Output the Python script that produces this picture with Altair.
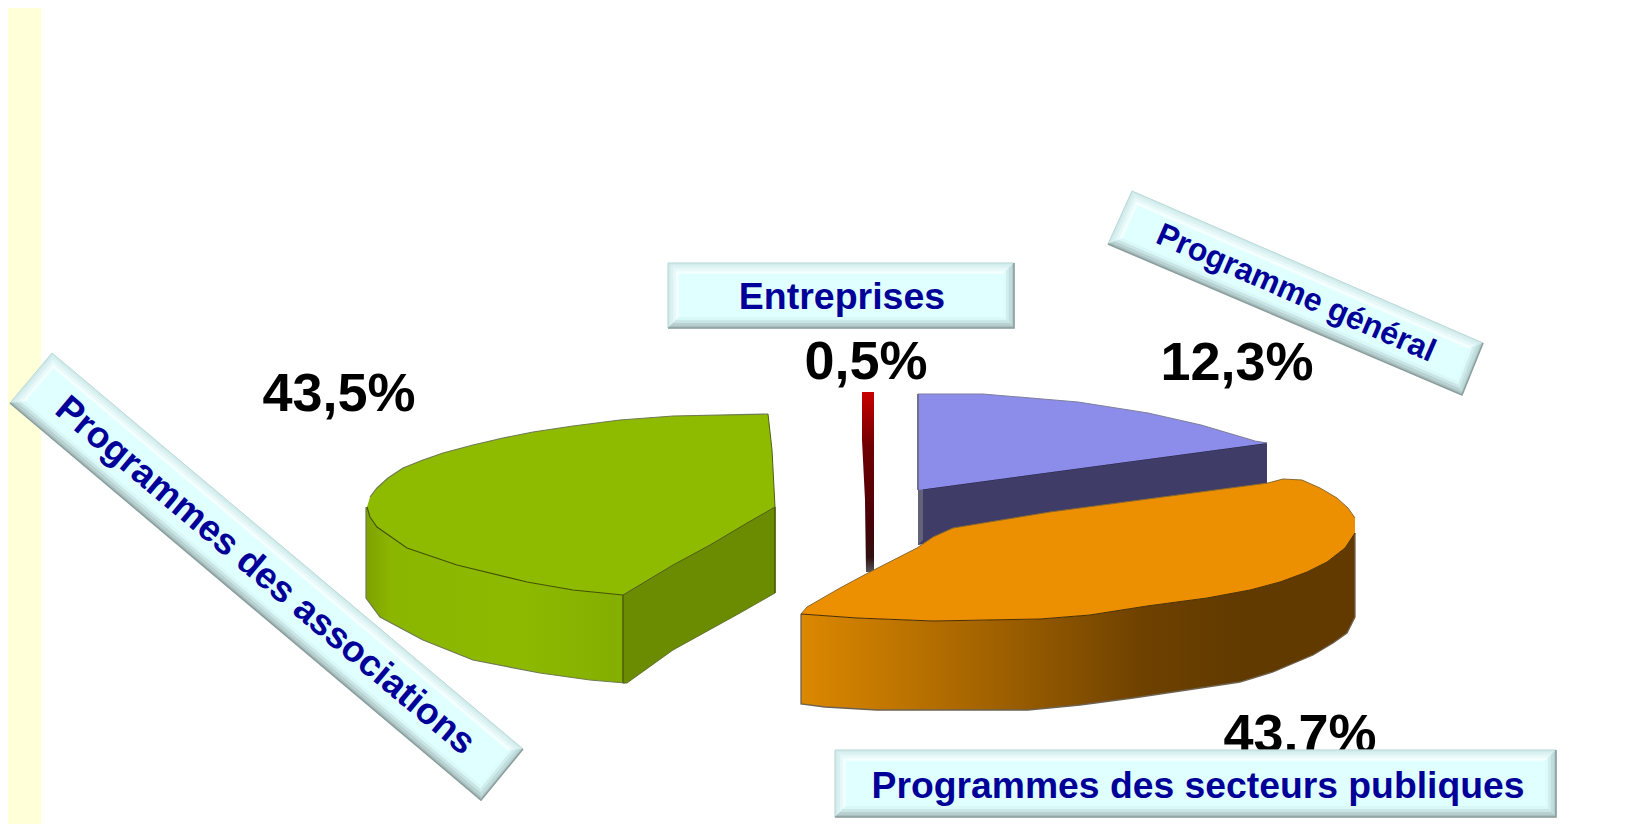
import math
import altair as alt
import pandas as pd

# ---- values and labels
categories = ["Programmes des associations", "Entreprises", "Programme général", "Programmes des secteurs publiques"]
share_labels = ["43,5%", "0,5%", "12,3%", "43.7%"]
share_x = [339, 866, 1237, 1300]
share_y = [411, 379, 380, 752]

# ---- outlines (x, y in picture pixels, y downwards)
green_front = [(367,507),(370,517),(377,527),(407,548),(457,565),(527,582),(573,590),(623,595)]
green_back = [(768,414),(673,416),(620,420),(573,426),(533,432),(503,438),(473,445),(443,453),(423,460),(403,468),(388,478),(377,488),(370,497)]
green_cut = [(623,595),(673,565),(710,545),(747,523),(775,507),(772,450),(768,414)]
green_bottom = [(625,683),(590,680),(540,673),(473,660),(423,640),(380,617),(366,598),(366,507)]
green_inner = [(623,595),(673,565),(710,545),(747,523),(775,507),(775,593),(740,613),(673,650),(627,683),(623,683),(623,595)]
red_slice = [(862,392),(874,392),(874,572),(866,572),(865,500),(862,440),(862,392)]
blue_side = [(918,490),(1267,443),(1267,484),(918,545),(918,490)]
blue_edge = [(918,394),(923,394),(923,540),(918,545),(918,394)]
blue_top = [(918,394),(983,394),(1078,402),(1148,413),(1201,425),(1255,441),(1267,443),(918,490),(918,394)]
orange_front = [(801,614),(857,618),(933,621),(1040,619),(1090,615),(1147,606),(1207,598),(1250,590),(1280,582),(1307,572),(1327,562),(1345,548),(1355,533)]
orange_bottom = [(1355,533),(1355,617),(1347,633),(1333,643),(1313,655),(1273,672),(1240,682),(1187,690),(1133,698),(1080,705),(1028,710),(877,710),(825,707),(801,704),(801,614)]
orange_back = [(1355,518),(1348,508),(1337,498),(1320,488),(1302,480),(1283,479),(1268,483),(1050,512),(953,528),(933,537),(917,548),(868,573),(840,588),(807,607),(801,614)]

# label boxes: top-left, top-right, bottom-right, bottom-left corners
box_corners = [
    [(52,353),(523,749),(481,800),(10,403)],
    [(668,263),(1014,263),(1014,328),(668,328)],
    [(1132,191),(1483,343),(1462,395),(1108,244)],
    [(835,750),(1556,750),(1556,817),(835,817)],
]
box_angle = [40, 0, 23.5, 0]
box_font = [37, 37.5, 32, 37.3]
box_text_xy = [(265,576),(842,298),(1296,293),(1198,787)]

FONT = "Liberation Sans"
X = alt.Scale(domain=[8, 1619], nice=False, zero=False)
Y = alt.Scale(domain=[824, 8], nice=False, zero=False)


def hgrad(*stops):
    return {"gradient": "linear", "x1": 0, "x2": 1, "y1": 0, "y2": 0,
            "stops": [{"offset": o, "color": c} for o, c in stops]}


def vgrad(*stops):
    return {"gradient": "linear", "x1": 0, "x2": 0, "y1": 0, "y2": 1,
            "stops": [{"offset": o, "color": c} for o, c in stops]}


def poly(points, fill, stroke=None, sw=1.0, so=1.0):
    df = pd.DataFrame({"x": [p[0] for p in points], "y": [p[1] for p in points], "i": range(len(points))})
    kw = {"fill": fill, "strokeWidth": sw, "strokeOpacity": so, "stroke": stroke if stroke else "transparent"}
    return alt.Chart(df).mark_line(clip=False, **kw).encode(
        x=alt.X("x:Q", scale=X, axis=None),
        y=alt.Y("y:Q", scale=Y, axis=None),
        order="i:Q",
    )


def edge(points, stroke, sw=1.0, so=1.0):
    df = pd.DataFrame({"x": [p[0] for p in points], "y": [p[1] for p in points], "i": range(len(points))})
    return alt.Chart(df).mark_line(clip=False, stroke=stroke, strokeWidth=sw, strokeOpacity=so).encode(
        x=alt.X("x:Q", scale=X, axis=None),
        y=alt.Y("y:Q", scale=Y, axis=None),
        order="i:Q",
    )


def inset(corners, b):
    a, c1, c2, d = corners
    ux, uy = c1[0]-a[0], c1[1]-a[1]
    un = math.hypot(ux, uy); ux, uy = ux/un*b, uy/un*b
    vx, vy = d[0]-a[0], d[1]-a[1]
    vn = math.hypot(vx, vy); vx, vy = vx/vn*b, vy/vn*b
    return [(a[0]+ux+vx, a[1]+uy+vy), (c1[0]-ux+vx, c1[1]-uy+vy), (c2[0]-ux-vx, c2[1]-uy-vy), (d[0]+ux-vx, d[1]+uy-vy)]


def mix(c1, c2, t):
    a = [int(c1[i:i+2], 16) for i in (1, 3, 5)]
    b = [int(c2[i:i+2], 16) for i in (1, 3, 5)]
    return "#" + "".join(f"{round(x+(y-x)*t):02X}" for x, y in zip(a, b))


BEVEL = 11
STEPS = 4
top_shade = ("#D2ECEC", "#F4FFFF")
left_shade = ("#D0EAEA", "#F2FFFF")
right_shade = ("#B4CECE", "#DEFCFC")
bottom_shade = ("#A8BEBE", "#DAF8F8")


def label_box(corners):
    out = [poly(corners + [corners[0]], "#E0FFFF")]
    for k in range(STEPS):
        o = inset(corners, BEVEL * k / STEPS) if k else corners
        n = inset(corners, BEVEL * (k + 1) / STEPS)
        t = k / (STEPS - 1)
        for (p, q), shade in zip([(0, 1), (3, 0), (1, 2), (2, 3)], [top_shade, left_shade, right_shade, bottom_shade]):
            col = mix(shade[0], shade[1], t)
            out.append(poly([o[p], o[q], n[q], n[p], o[p]], col, col, 0.6))
    i = inset(corners, BEVEL)
    out.append(poly(i + [i[0]], "#E0FFFF"))
    out.append(edge([corners[3], corners[0], corners[1]], "#BCD8D8", 1.0))
    out.append(edge([corners[1], corners[2], corners[3]], "#8C9F9F", 1.6))
    return out


def text_at(txt, x, y, size, color, angle=0, baseline="middle"):
    df = pd.DataFrame({"x": [x], "y": [y], "t": [txt]})
    return alt.Chart(df).mark_text(font=FONT, fontWeight="bold", fontSize=size, color=color,
                                   angle=angle, align="center", baseline=baseline, clip=False).encode(
        x=alt.X("x:Q", scale=X, axis=None),
        y=alt.Y("y:Q", scale=Y, axis=None),
        text="t:N",
    )


strip = alt.Chart(pd.DataFrame({"x": [8], "x2": [41], "y": [8], "y2": [824]})).mark_rect(color="#FFFFD8").encode(
    x=alt.X("x:Q", scale=X, axis=None), x2="x2:Q",
    y=alt.Y("y:Q", scale=Y, axis=None), y2="y2:Q",
)

green_side = green_front + green_bottom
green_top = green_back + green_front + green_cut
orange_side = orange_front + orange_bottom
orange_top = orange_back + orange_front[:]

layers = [strip]
layers += [
    poly(green_side, hgrad((0, "#7EA200"), (0.1, "#8BB600"), (0.6, "#8DB900"), (1, "#84AE00"))),
    edge(green_bottom, "#6E7A50", 1.2),
    poly(green_inner, "#6B8C00", "#5A6B28", 0.9),
    edge([(623, 595), (623, 683)], "#4A5C00", 1.2),
    edge([(775, 507), (775, 593)], "#4A5C00", 1.5),
    poly(green_top, "#8EBB00"),
    edge(green_back, "#6E7A50", 1.2),
    edge(green_front, "#3F5000", 1.1),
    edge(green_cut, "#4F6015", 1.0),
    poly(blue_side, "#3F3C68"),
    edge([(918, 490), (1267, 443)], "#23224A", 1.1),
    poly(blue_edge, "#62627A"),
    poly(blue_top, "#8C8CEA"),
    edge(blue_top[:7], "#7F7F9F", 1.1),
    edge([(918, 394), (918, 490)], "#70708C", 2),
    poly(red_slice, vgrad((0, "#C80000"), (0.3, "#700000"), (0.7, "#4A0008"), (0.92, "#301010"), (1, "#555555"))),
    poly(orange_side, hgrad((0, "#DC8800"), (0.3, "#A96700"), (0.62, "#6E4100"), (0.8, "#613A00"), (1, "#623A00"))),
    edge(orange_bottom, "#6E6250", 1.3),
    poly(orange_top, "#EC8F00"),
    edge(orange_back, "#8A6A30", 1.0),
    edge(orange_front, "#4A2E00", 1.0),
]
for t, x, y in zip(share_labels, share_x, share_y):
    layers.append(text_at(t, x, y, 54, "#000000", baseline="alphabetic"))
for name, corners, ang, size, (tx, ty) in zip(categories, box_corners, box_angle, box_font, box_text_xy):
    layers += label_box(corners)
    layers.append(text_at(name, tx, ty, size, "#000099", angle=ang))

chart = alt.layer(*layers).properties(
    width=1611, height=816, padding=0,
    autosize=alt.AutoSizeParams(type="none"),
    background="white",
).configure_view(stroke=None)

chart.save("out.html", embed_options={"renderer": "svg", "actions": False})
